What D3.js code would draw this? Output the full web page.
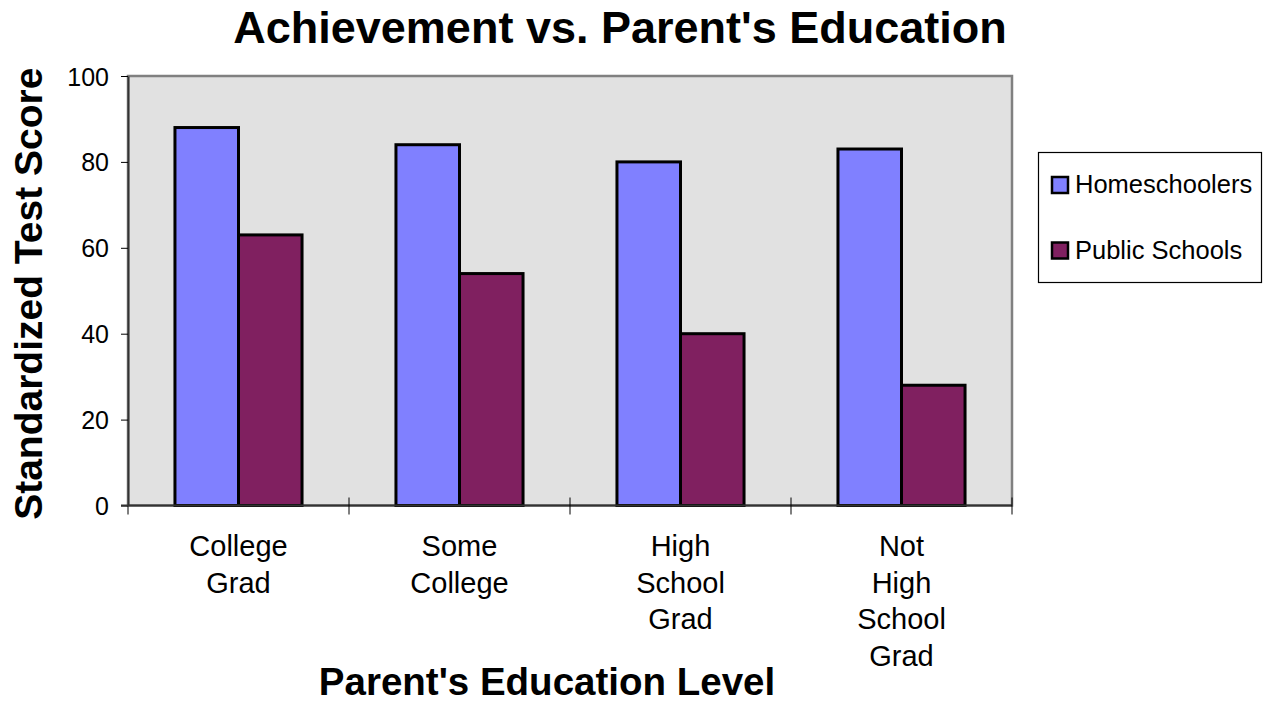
<!DOCTYPE html>
<html>
<head>
<meta charset="utf-8">
<script src="https://cdn.jsdelivr.net/npm/d3@7"></script>
<style>
  html, body { margin: 0; padding: 0; background: #fff; }
  #chart { width: 1264px; height: 702px; }
  text { font-family: Arial, "Liberation Sans", sans-serif; fill: #000; }
</style>
</head>
<body>
<div id="chart"></div>
<script>
// data
const categories = ["College Grad", "Some College", "High School Grad", "Not High School Grad"];
const tickLines = [["College", "Grad"], ["Some", "College"], ["High", "School", "Grad"], ["Not", "High", "School", "Grad"]];
const seriesNames = ["Homeschoolers", "Public Schools"];
const homeschoolers = [88, 84, 80, 83];
const publicSchools = [63, 54, 40, 28];
const yTicks = [0, 20, 40, 60, 80, 100];

const colors = ["#8080ff", "#802060"];

const W = 1264, H = 702;
const plot = { left: 128, right: 1012, top: 76, bottom: 505.5 };

const svg = d3.select('#chart').append('svg')
  .attr('width', W)
  .attr('height', H)
  .attr('viewBox', `0 0 ${W} ${H}`);

const x0 = d3.scaleBand()
  .domain(categories)
  .range([plot.left, plot.right])
  .paddingInner(0.425)
  .paddingOuter(0.2125);

const x1 = d3.scaleBand()
  .domain(seriesNames)
  .range([0, x0.bandwidth()]);

const y = d3.scaleLinear()
  .domain([0, 100])
  .range([plot.bottom, plot.top]);

// plot background + grey frame
svg.append('rect')
  .attr('x', plot.left).attr('y', plot.top)
  .attr('width', plot.right - plot.left)
  .attr('height', plot.bottom - plot.top)
  .attr('fill', '#e1e1e1')
  .attr('stroke', '#808080')
  .attr('stroke-width', 2.5);

// bars
const rows = categories.map((c, i) => ({ cat: c, vals: [homeschoolers[i], publicSchools[i]] }));

const groups = svg.append('g').attr('class', 'bars')
  .selectAll('g')
  .data(rows)
  .join('g')
  .attr('transform', d => `translate(${x0(d.cat)},0)`);

groups.selectAll('rect')
  .data(d => d.vals.map((v, j) => ({ name: seriesNames[j], v, j })))
  .join('rect')
  .attr('x', d => x1(d.name))
  .attr('y', d => y(d.v))
  .attr('width', x1.bandwidth())
  .attr('height', d => y(0) - y(d.v))
  .attr('fill', d => colors[d.j])
  .attr('stroke', '#000')
  .attr('stroke-width', 3);

// y axis
const yAxis = d3.axisLeft(y)
  .tickValues(yTicks)
  .tickSizeInner(7)
  .tickSizeOuter(0)
  .tickPadding(12);

const gy = svg.append('g')
  .attr('transform', `translate(${plot.left},0)`)
  .call(yAxis);
gy.select('.domain').attr('stroke', '#333').attr('stroke-width', 2);
gy.selectAll('.tick line').attr('stroke', '#000').attr('stroke-width', 1);
gy.selectAll('.tick text')
  .style('font-size', '25px')
  .attr('dy', '0.36em');
// left axis runs a little below the baseline
gy.append('line')
  .attr('x1', 0).attr('x2', 0)
  .attr('y1', y(0)).attr('y2', y(0) + 9)
  .attr('stroke', '#000');

// x axis baseline
svg.append('line')
  .attr('x1', plot.left - 7).attr('x2', plot.right)
  .attr('y1', y(0)).attr('y2', y(0))
  .attr('stroke', '#333').attr('stroke-width', 2);

// boundary ticks between categories
const gap = x0.step() * x0.paddingInner();
const bounds = categories.map(c => x0(c) - gap / 2).concat([x0(categories[3]) + x0.bandwidth() + gap / 2]);
svg.append('g')
  .selectAll('line')
  .data(bounds.slice(1))
  .join('line')
  .attr('x1', d => d).attr('x2', d => d)
  .attr('y1', y(0) - 8).attr('y2', y(0) + 9)
  .attr('stroke', '#000');

// category labels
const lbl = svg.append('g')
  .selectAll('text')
  .data(categories)
  .join('text')
  .attr('x', d => x0(d) + x0.bandwidth() / 2)
  .attr('y', 556)
  .attr('text-anchor', 'middle')
  .style('font-size', '29px');
lbl.selectAll('tspan')
  .data((d, i) => tickLines[i])
  .join('tspan')
  .attr('x', function () { return this.parentNode.getAttribute('x'); })
  .attr('dy', (d, i) => i === 0 ? 0 : 36.7)
  .text(d => d);

// titles
svg.append('text')
  .attr('x', 620).attr('y', 43)
  .attr('text-anchor', 'middle')
  .style('font-size', '45px')
  .style('font-weight', 'bold')
  .text("Achievement vs. Parent's Education");

svg.append('text')
  .attr('x', 547).attr('y', 695)
  .attr('text-anchor', 'middle')
  .style('font-size', '38.5px')
  .style('font-weight', 'bold')
  .text("Parent's Education Level");

svg.append('text')
  .attr('transform', `translate(42,${(plot.top + plot.bottom) / 2 + 3}) rotate(-90)`)
  .attr('text-anchor', 'middle')
  .style('font-size', '39px')
  .style('font-weight', 'bold')
  .text('Standardized Test Score');

// legend
const legend = svg.append('g').attr('class', 'legend');
legend.append('rect')
  .attr('x', 1038.5).attr('y', 152.5)
  .attr('width', 223).attr('height', 130)
  .attr('fill', '#fff')
  .attr('stroke', '#000')
  .attr('stroke-width', 1.2);

const items = legend.selectAll('g.item')
  .data(seriesNames)
  .join('g')
  .attr('class', 'item')
  .attr('transform', (d, i) => `translate(1052,${177 + i * 65.5})`);
items.append('rect')
  .attr('width', 16).attr('height', 16)
  .attr('fill', (d, i) => colors[i])
  .attr('stroke', '#000')
  .attr('stroke-width', 2.5);
items.append('text')
  .attr('x', 23).attr('y', 16)
  .style('font-size', '25.5px')
  .text(d => d);
</script>
</body>
</html>
